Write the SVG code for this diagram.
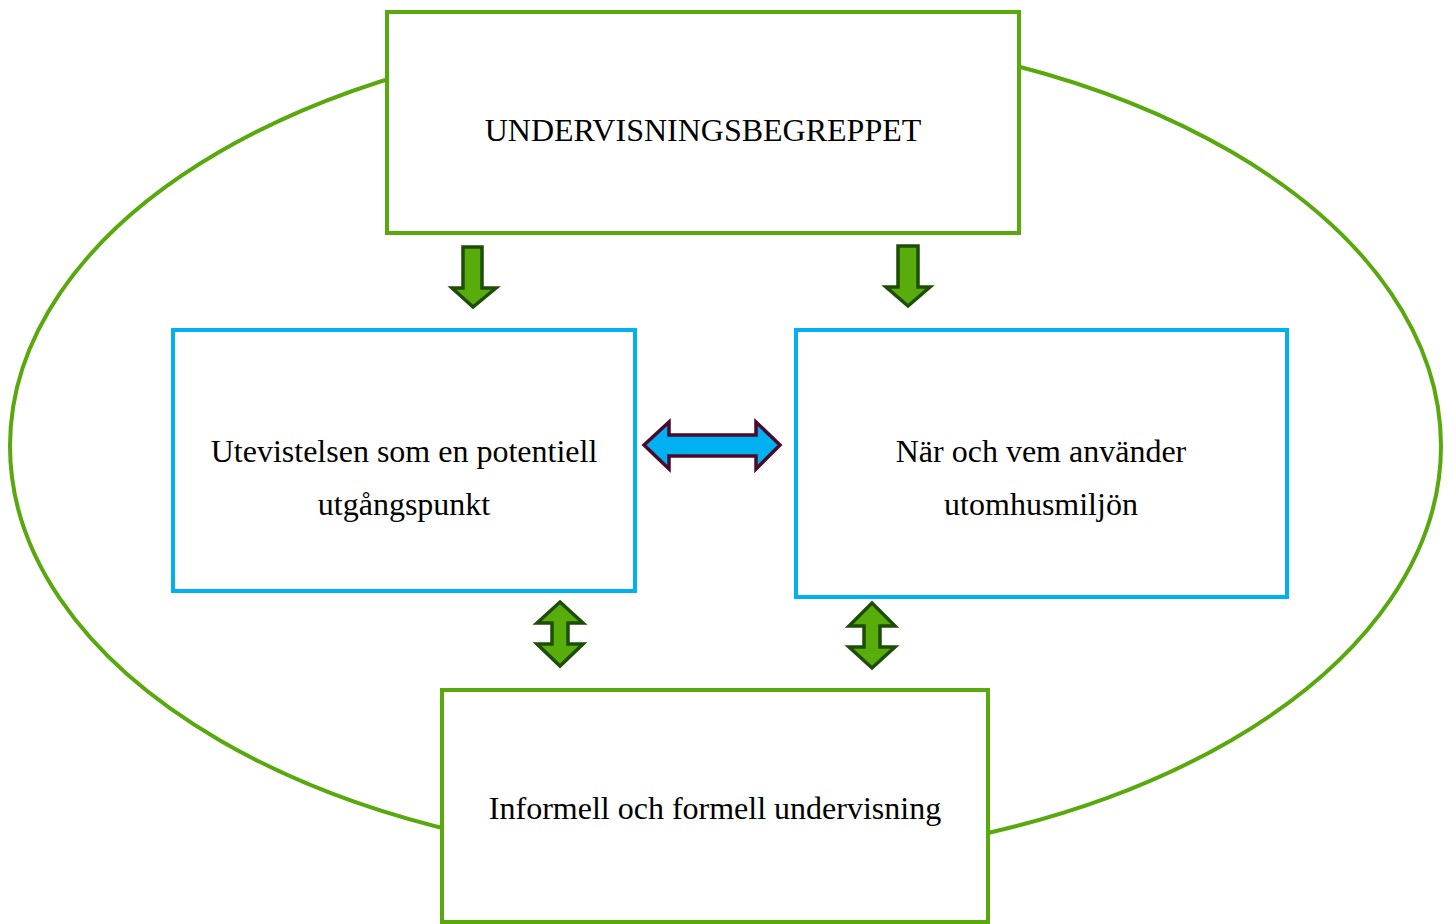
<svg xmlns="http://www.w3.org/2000/svg" width="1451" height="924" viewBox="0 0 1451 924">
<style>
.g{fill:#fff;stroke:#58A80E;stroke-width:4}
.b{fill:#fff;stroke:#00B0F0;stroke-width:4}
.t{font-family:"Liberation Serif","Times New Roman",serif;font-size:32px;fill:#000;text-anchor:middle}
.ga{fill:#58AC0C;stroke:#1E4D06;stroke-width:3.5;stroke-linejoin:miter}
.ba{fill:#00B0F0;stroke:#4A0A2C;stroke-width:3.5;stroke-linejoin:miter}
</style>
<rect width="1451" height="924" fill="#fff"/>
<g id="connectors">
<ellipse cx="725.5" cy="446" rx="715.5" ry="416" fill="none" stroke="#58A80E" stroke-width="4"/>
<polygon class="ga" points="463,247 482,247 482,288 496,288 473,307 452,288 463,288"/>
<polygon class="ga" points="898,246 918,246 918,287 930,287 908,306 886,287 898,287"/>
<polygon class="ba" points="644,445 669,422 669,435 756,435 756,422 780,445 756,469 756,456 669,456 669,469"/>
<polygon class="ga" points="560,602 583,623 568,623 568,644 583,644 560,666 537,644 552,644 552,623 537,623"/>
<polygon class="ga" points="872,603 895,626 880,626 880,647 895,647 872,668 849,647 864,647 864,626 849,626"/>
</g>
<g id="top">
<rect class="g" x="387" y="12" width="632" height="221"/>
<text class="t" x="703" y="141">UNDERVISNINGSBEGREPPET</text>
</g>
<g id="left">
<rect class="b" x="173" y="330" width="462" height="261"/>
<text class="t" x="404" y="461.5">Utevistelsen som en potentiell</text>
<text class="t" x="404" y="515">utgångspunkt</text>
</g>
<g id="right">
<rect class="b" x="796" y="330" width="491" height="267"/>
<text class="t" x="1041" y="461.5">När och vem använder</text>
<text class="t" x="1041" y="515">utomhusmiljön</text>
</g>
<g id="bottom">
<rect class="g" x="442" y="690" width="546" height="232"/>
<text class="t" x="715" y="819">Informell och formell undervisning</text>
</g>
</svg>
